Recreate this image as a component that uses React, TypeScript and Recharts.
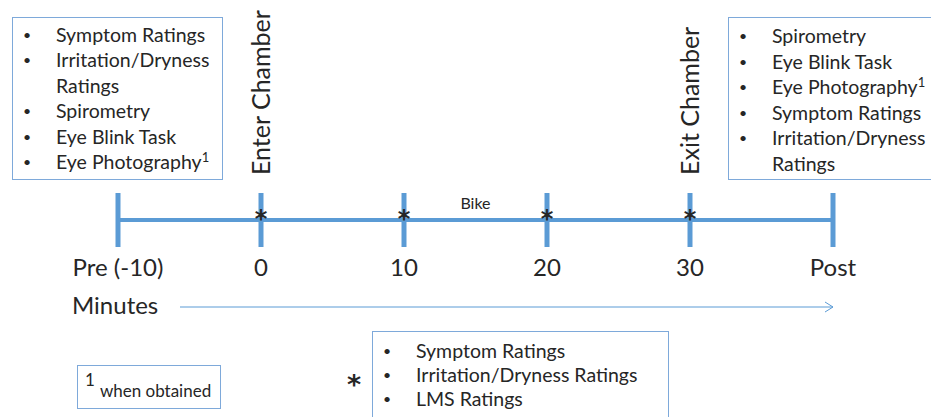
import React from "react";
import { ComposedChart, XAxis, YAxis, ReferenceLine, Scatter } from "recharts";

// timeline (minutes), Pre = -10, Post drawn at 40
const timepoints = [-10, 0, 10, 20, 30, 40];
const tickLabels = ["Pre (-10)", "0", "10", "20", "30", "Post"];
const ratingTimes = [0, 10, 20, 30];
const chamberTimes = [0, 30];
const chamberLabels = ["Enter Chamber", "Exit Chamber"];
const bikeSpan = [10, 20];

const preMeasures = [
  "Symptom Ratings",
  "Irritation/Dryness Ratings",
  "Spirometry",
  "Eye Blink Task",
  "Eye Photography",
];
const postMeasures = [
  "Spirometry",
  "Eye Blink Task",
  "Eye Photography",
  "Symptom Ratings",
  "Irritation/Dryness Ratings",
];
const duringMeasures = ["Symptom Ratings", "Irritation/Dryness Ratings", "LMS Ratings"];
const footnoted = ["Eye Photography"];

const BLUE = "#5B9BD5";
const BOX = "#7EA9DA";
const INK = "#262626";
const FONT = "Lato, 'Open Sans', sans-serif";
const STAR_FONT = "'DejaVu Sans', sans-serif";

const TimeTick = (props: any) => {
  const { x, y, payload } = props;
  const i = timepoints.indexOf(payload.value);
  return (
    <text x={x} y={y} dy={21} textAnchor="middle" fontSize={24} fontFamily={FONT} fill={INK}>
      {tickLabels[i]}
    </text>
  );
};

const Star = (props: any) => (
  <text
    x={props.cx}
    y={props.cy}
    dy={7}
    textAnchor="middle"
    fontSize={24}
    fontWeight={700}
    fontFamily={STAR_FONT}
    fill={INK}
  >
    *
  </text>
);

const ChamberLabel = (props: any) => (
  <text
    transform={`translate(${props.cx + 9}, 175) rotate(-90)`}
    textAnchor="start"
    fontSize={25}
    fontFamily={FONT}
    fill={INK}
  >
    {props.payload.label}
  </text>
);

const BikeLabel = (props: any) => (
  <text x={props.cx} y={props.cy} dy={-11} textAnchor="middle" fontSize={16} fontFamily={FONT} fill={INK}>
    Bike
  </text>
);

function Bullets({ items, width }: { items: string[]; width: number }) {
  return (
    <div>
      {items.map((it) => (
        <div key={it} style={{ display: "flex" }}>
          <div style={{ width: 33, flexShrink: 0, paddingLeft: 10, fontSize: 14 }}>•</div>
          <div style={{ width }}>
            {it}
            {footnoted.includes(it) && (
              <sup style={{ fontSize: 13, lineHeight: 0, verticalAlign: 7 }}>1</sup>
            )}
          </div>
        </div>
      ))}
    </div>
  );
}

export default function App() {
  const ratingData = ratingTimes.map((t) => ({ t, y: 0 }));
  const chamberData = chamberTimes.map((t, i) => ({ t, y: 0, label: chamberLabels[i] }));
  const bikeData = [{ t: (bikeSpan[0] + bikeSpan[1]) / 2, y: 0 }];

  const boxText: React.CSSProperties = {
    position: "absolute",
    fontFamily: FONT,
    color: INK,
    border: `1.5px solid ${BOX}`,
    boxSizing: "border-box",
    background: "#fff",
  };

  return (
    <div
      style={{
        position: "absolute",
        left: 0,
        top: 0,
        width: 931,
        height: 417,
        overflow: "hidden",
        background: "#fff",
      }}
    >
      <ComposedChart
        width={931}
        height={417}
        margin={{ top: 193, right: 98, bottom: 140, left: 118 }}
      >
        <XAxis
          type="number"
          dataKey="t"
          domain={[-10, 40]}
          ticks={timepoints}
          interval={0}
          tick={<TimeTick />}
          axisLine={false}
          tickLine={false}
          height={30}
        />
        <YAxis type="number" dataKey="y" domain={[-1, 1]} hide />
        <ReferenceLine y={0} stroke={BLUE} strokeWidth={4} />
        {timepoints.map((t) => (
          <ReferenceLine
            key={t}
            segment={[
              { x: t, y: -1 },
              { x: t, y: 1 },
            ]}
            stroke={BLUE}
            strokeWidth={5}
          />
        ))}
        <Scatter data={ratingData} dataKey="y" shape={<Star />} isAnimationActive={false} />
        <Scatter data={chamberData} dataKey="y" shape={<ChamberLabel />} isAnimationActive={false} />
        <Scatter data={bikeData} dataKey="y" shape={<BikeLabel />} isAnimationActive={false} />
      </ComposedChart>

      {/* Minutes arrow */}
      <div style={{ position: "absolute", left: 72, top: 290, fontFamily: FONT, fontSize: 24, color: INK }}>
        Minutes
      </div>
      <svg style={{ position: "absolute", left: 0, top: 0 }} width={931} height={417}>
        <line x1={180} y1={307} x2={833} y2={307} stroke={BLUE} strokeWidth={1} />
        <polyline points="825,302 833,307 825,312" fill="none" stroke={BLUE} strokeWidth={1} />
        <text x={354} y={394} textAnchor="middle" fontSize={27} fontWeight={700} fontFamily={STAR_FONT} fill={INK}>
          *
        </text>
      </svg>

      {/* pre box */}
      <div style={{ ...boxText, left: 12, top: 17, width: 211, height: 163, paddingTop: 4, fontSize: 19.5, lineHeight: "25.4px" }}>
        <Bullets items={preMeasures} width={168} />
      </div>

      {/* post box */}
      <div style={{ ...boxText, left: 728, top: 17, width: 230, height: 163, paddingTop: 5, fontSize: 19.5, lineHeight: "25.6px" }}>
        <Bullets items={postMeasures} width={178} />
      </div>

      {/* during box */}
      <div style={{ ...boxText, left: 372, top: 331, width: 297, height: 100, paddingTop: 7, fontSize: 19.5, lineHeight: "24px" }}>
        <Bullets items={duringMeasures} width={260} />
      </div>

      {/* footnote */}
      <div style={{ ...boxText, left: 77, top: 365, width: 144, height: 44, paddingLeft: 7, paddingTop: 3 }}>
        <span style={{ fontSize: 17, verticalAlign: "top" }}>1</span>
        <span style={{ fontSize: 17, position: "relative", top: 11, marginLeft: 5 }}>when obtained</span>
      </div>
    </div>
  );
}
